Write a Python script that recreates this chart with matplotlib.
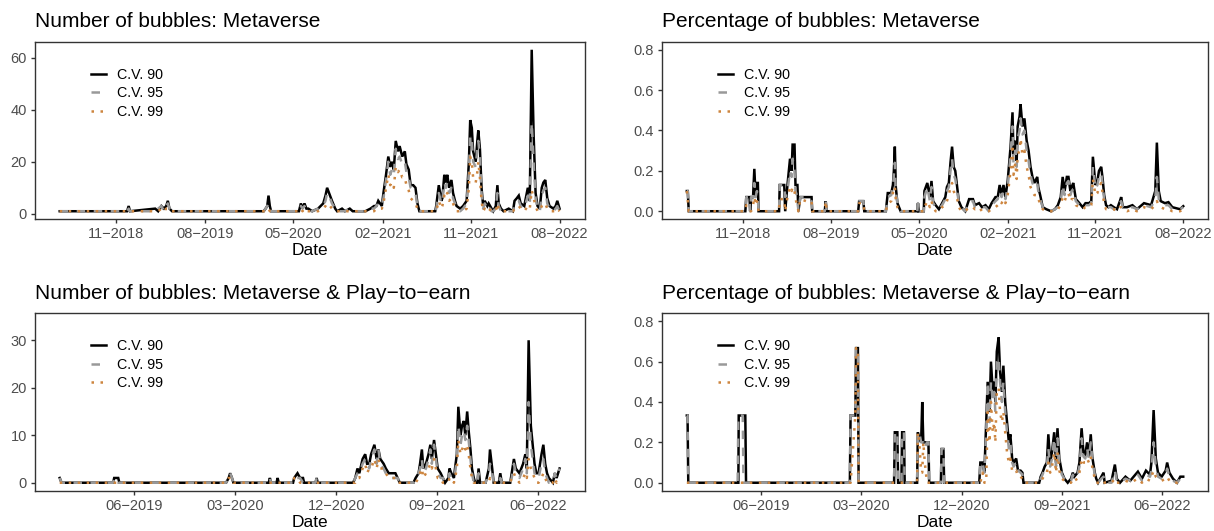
import pandas as pd
import matplotlib
matplotlib.use("Agg")
import matplotlib.pyplot as plt
import matplotlib.dates as mdates

plt.rcParams["font.family"] = ["Liberation Sans", "DejaVu Sans"]

# ---- Metaverse: number of bubbles ----
num_meta_dates = [
    "2018-05-10", "2018-12-04", "2018-12-09", "2018-12-13", "2019-03-01", "2019-03-10",
    "2019-03-20", "2019-03-28", "2019-04-04", "2019-04-09", "2019-04-14", "2019-04-22",
    "2020-01-30", "2020-02-05", "2020-02-10", "2020-02-14", "2020-02-18", "2020-02-22",
    "2020-05-18", "2020-05-24", "2020-05-29", "2020-06-04", "2020-06-10", "2020-06-16",
    "2020-06-28", "2020-07-16", "2020-08-01", "2020-08-08", "2020-08-13", "2020-08-22",
    "2020-08-28", "2020-09-07", "2020-09-13", "2020-09-28", "2020-10-07", "2020-10-22",
    "2020-10-31", "2020-12-09", "2020-12-25", "2021-01-05", "2021-01-12", "2021-01-18",
    "2021-01-29", "2021-02-03", "2021-02-11", "2021-02-18", "2021-02-24", "2021-03-01",
    "2021-03-07", "2021-03-13", "2021-03-20", "2021-03-25", "2021-04-02", "2021-04-10",
    "2021-04-15", "2021-04-22", "2021-04-28", "2021-05-06", "2021-05-13", "2021-05-19",
    "2021-05-25", "2021-07-13", "2021-07-16", "2021-07-24", "2021-08-01", "2021-08-04",
    "2021-08-10", "2021-08-15", "2021-08-19", "2021-08-25", "2021-09-01", "2021-09-06",
    "2021-09-12", "2021-09-17", "2021-09-28", "2021-10-07", "2021-10-18", "2021-10-25",
    "2021-10-29", "2021-11-03", "2021-11-07", "2021-11-15", "2021-11-20", "2021-11-23",
    "2021-11-28", "2021-12-03", "2021-12-08", "2021-12-13", "2021-12-21", "2021-12-25",
    "2022-01-03", "2022-01-08", "2022-01-16", "2022-01-21", "2022-01-25", "2022-02-01",
    "2022-02-09", "2022-02-25", "2022-03-10", "2022-03-15", "2022-03-22", "2022-03-28",
    "2022-04-03", "2022-04-14", "2022-04-25", "2022-05-01", "2022-05-07", "2022-05-13",
    "2022-05-19", "2022-05-25", "2022-06-01", "2022-06-07", "2022-06-12", "2022-06-18",
    "2022-06-24", "2022-07-01", "2022-07-13", "2022-07-20", "2022-07-25", "2022-08-01",
]
num_meta_90 = [
    1, 1, 3, 1, 2, 1, 3, 2, 3, 5, 2, 1,
    1, 2, 3, 7, 3, 1,
    1, 4, 2, 4, 2, 2,
    1, 2, 4, 7, 10, 7,
    5, 2, 1, 2, 1, 2,
    1, 1, 2, 3, 3, 5,
    3, 8, 15, 22, 18, 20,
    17, 28, 24, 26, 22, 24,
    19, 17, 11, 11, 10, 4,
    1, 1, 3, 11, 5, 6,
    15, 12, 15, 10, 13, 8,
    5, 3, 2, 3, 5, 20,
    36, 33, 24, 20, 28, 32,
    25, 10, 3, 5, 3, 4,
    2, 1, 3, 11, 4, 2,
    1, 2, 1, 5, 6, 7,
    4, 3, 10, 5, 63, 30,
    8, 3, 2, 10, 12, 13,
    6, 3, 2, 3, 5, 2,
]
num_meta_95 = [
    1, 1, 2, 1, 1, 2, 3, 1, 3, 4, 2, 1,
    1, 2, 3, 4, 2, 1,
    1, 3, 2, 3, 1, 1,
    1, 2, 3, 5, 8, 6,
    4, 2, 1, 1, 1, 2,
    1, 1, 2, 2, 3, 4,
    3, 6, 13, 20, 15, 17,
    15, 25, 21, 22, 19, 20,
    16, 14, 10, 9, 8, 3,
    1, 1, 2, 8, 4, 5,
    12, 10, 12, 8, 10, 6,
    4, 2, 1, 2, 4, 16,
    30, 28, 20, 18, 25, 28,
    22, 8, 2, 4, 2, 3,
    1, 1, 2, 8, 3, 1,
    1, 1, 1, 4, 5, 5,
    3, 2, 7, 4, 35, 20,
    6, 2, 1, 7, 9, 10,
    4, 2, 1, 2, 3, 1,
]
num_meta_99 = [
    1, 1, 1, 1, 1, 1, 2, 1, 2, 2, 1, 1,
    1, 1, 2, 2, 1, 1,
    1, 2, 1, 2, 1, 1,
    1, 1, 2, 3, 4, 3,
    2, 1, 1, 1, 1, 1,
    1, 1, 1, 1, 2, 2,
    2, 4, 10, 15, 11, 12,
    10, 18, 16, 17, 14, 14,
    11, 9, 6, 5, 4, 2,
    1, 1, 1, 5, 2, 3,
    7, 6, 8, 5, 6, 4,
    2, 1, 1, 1, 2, 10,
    22, 20, 14, 12, 16, 20,
    14, 5, 1, 2, 1, 2,
    1, 1, 1, 4, 2, 1,
    1, 1, 1, 2, 3, 3,
    2, 1, 3, 2, 9, 6,
    3, 1, 1, 3, 4, 4,
    2, 1, 1, 1, 2, 1,
]

# ---- Metaverse: share of bubbles ----
pct_meta_dates = [
    "2018-05-10", "2018-05-13", "2018-05-16", "2018-11-08", "2018-11-11", "2018-11-21",
    "2018-11-23", "2018-11-26", "2018-12-02", "2018-12-06", "2018-12-10", "2018-12-14",
    "2018-12-17", "2018-12-19", "2019-02-21", "2019-02-23", "2019-03-09", "2019-03-12",
    "2019-03-19", "2019-03-27", "2019-04-01", "2019-04-04", "2019-04-10", "2019-04-13",
    "2019-04-19", "2019-04-22", "2019-04-28", "2019-05-16", "2019-06-02", "2019-06-04",
    "2019-07-13", "2019-07-16", "2019-07-19", "2019-10-25", "2019-10-28", "2019-11-10",
    "2019-11-13", "2020-01-19", "2020-01-25", "2020-02-05", "2020-02-10", "2020-02-13",
    "2020-02-16", "2020-02-19", "2020-02-24", "2020-03-05", "2020-04-26", "2020-04-28",
    "2020-04-30", "2020-05-16", "2020-05-18", "2020-05-27", "2020-06-04", "2020-06-09",
    "2020-06-14", "2020-06-22", "2020-07-02", "2020-07-12", "2020-07-22", "2020-07-27",
    "2020-08-02", "2020-08-07", "2020-08-12", "2020-08-17", "2020-08-22", "2020-08-28",
    "2020-09-02", "2020-09-10", "2020-09-22", "2020-10-04", "2020-10-16", "2020-10-22",
    "2020-11-04", "2020-11-13", "2020-11-24", "2020-12-04", "2020-12-13", "2020-12-25",
    "2021-01-01", "2021-01-07", "2021-01-13", "2021-01-19", "2021-01-25", "2021-02-01",
    "2021-02-10", "2021-02-16", "2021-02-19", "2021-02-25", "2021-03-01", "2021-03-04",
    "2021-03-10", "2021-03-13", "2021-03-19", "2021-03-25", "2021-04-01", "2021-04-07",
    "2021-04-13", "2021-04-19", "2021-04-25", "2021-05-04", "2021-05-07", "2021-05-13",
    "2021-05-21", "2021-06-01", "2021-06-16", "2021-06-28", "2021-07-07", "2021-07-16",
    "2021-07-22", "2021-07-28", "2021-08-04", "2021-08-09", "2021-08-15", "2021-08-19",
    "2021-08-24", "2021-09-01", "2021-09-12", "2021-09-22", "2021-10-01", "2021-10-12",
    "2021-10-19", "2021-10-24", "2021-10-28", "2021-11-01", "2021-11-07", "2021-11-12",
    "2021-11-19", "2021-11-24", "2021-11-28", "2021-12-04", "2021-12-11", "2021-12-19",
    "2021-12-28", "2022-01-07", "2022-01-16", "2022-01-20", "2022-01-25", "2022-02-07",
    "2022-02-24", "2022-03-10", "2022-04-01", "2022-04-23", "2022-05-06", "2022-05-11",
    "2022-05-17", "2022-05-23", "2022-06-05", "2022-06-16", "2022-06-28", "2022-07-10",
    "2022-07-22", "2022-08-01",
]
pct_meta_90 = [
    0.10, 0.10, 0.0, 0.0, 0.07, 0.07, 0.0, 0.07, 0.07, 0.21, 0.07, 0.14,
    0.14, 0.0, 0.0, 0.13, 0.13, 0.0, 0.13, 0.26, 0.20, 0.33, 0.33, 0.13,
    0.13, 0.0, 0.07, 0.07, 0.07, 0.0, 0.0, 0.05, 0.0, 0.0, 0.05, 0.05,
    0.0, 0.0, 0.09, 0.09, 0.13, 0.20, 0.32, 0.12, 0.04, 0.0, 0.0, 0.04,
    0.0, 0.0, 0.10, 0.14, 0.07, 0.15, 0.05, 0.03, 0.01, 0.04, 0.07, 0.12,
    0.14, 0.24, 0.32, 0.22, 0.20, 0.12, 0.05, 0.02, 0.0, 0.06, 0.06, 0.03,
    0.04, 0.02, 0.03, 0.01, 0.04, 0.07, 0.07, 0.13, 0.08, 0.13, 0.07, 0.15,
    0.32, 0.49, 0.28, 0.35, 0.25, 0.42, 0.47, 0.53, 0.42, 0.46, 0.35, 0.30,
    0.22, 0.17, 0.14, 0.17, 0.12, 0.08, 0.02, 0.01, 0.0, 0.01, 0.03, 0.07,
    0.17, 0.10, 0.17, 0.17, 0.10, 0.12, 0.14, 0.06, 0.04, 0.02, 0.04, 0.04,
    0.05, 0.27, 0.20, 0.13, 0.15, 0.20, 0.22, 0.15, 0.08, 0.03, 0.02, 0.03,
    0.02, 0.01, 0.05, 0.07, 0.02, 0.02, 0.03, 0.01, 0.04, 0.03, 0.10, 0.34,
    0.10, 0.05, 0.04, 0.045, 0.02, 0.015, 0.01, 0.025,
]
pct_meta_95 = [
    0.10, 0.10, 0.0, 0.0, 0.07, 0.07, 0.0, 0.07, 0.07, 0.14, 0.07, 0.10,
    0.07, 0.0, 0.0, 0.13, 0.13, 0.07, 0.10, 0.20, 0.17, 0.26, 0.20, 0.10,
    0.07, 0.0, 0.07, 0.07, 0.05, 0.0, 0.0, 0.05, 0.0, 0.0, 0.05, 0.05,
    0.0, 0.0, 0.07, 0.08, 0.12, 0.18, 0.24, 0.10, 0.04, 0.0, 0.0, 0.04,
    0.0, 0.0, 0.07, 0.12, 0.05, 0.12, 0.04, 0.02, 0.01, 0.03, 0.06, 0.10,
    0.12, 0.20, 0.26, 0.18, 0.16, 0.10, 0.04, 0.02, 0.0, 0.05, 0.05, 0.02,
    0.03, 0.02, 0.02, 0.0, 0.03, 0.05, 0.06, 0.10, 0.07, 0.10, 0.06, 0.12,
    0.28, 0.42, 0.24, 0.30, 0.22, 0.36, 0.40, 0.46, 0.38, 0.40, 0.30, 0.25,
    0.18, 0.14, 0.12, 0.14, 0.10, 0.06, 0.02, 0.01, 0.0, 0.01, 0.02, 0.05,
    0.13, 0.08, 0.14, 0.15, 0.08, 0.10, 0.11, 0.05, 0.03, 0.02, 0.03, 0.03,
    0.04, 0.22, 0.17, 0.11, 0.13, 0.17, 0.19, 0.12, 0.06, 0.02, 0.02, 0.02,
    0.01, 0.01, 0.04, 0.05, 0.02, 0.01, 0.02, 0.01, 0.03, 0.02, 0.06, 0.17,
    0.06, 0.04, 0.03, 0.03, 0.01, 0.01, 0.01, 0.02,
]
pct_meta_99 = [
    0.10, 0.05, 0.0, 0.0, 0.03, 0.0, 0.0, 0.0, 0.03, 0.07, 0.03, 0.05,
    0.03, 0.0, 0.0, 0.06, 0.06, 0.0, 0.07, 0.12, 0.10, 0.12, 0.10, 0.06,
    0.03, 0.0, 0.06, 0.05, 0.05, 0.0, 0.0, 0.05, 0.0, 0.0, 0.04, 0.04,
    0.0, 0.0, 0.04, 0.05, 0.09, 0.12, 0.12, 0.06, 0.02, 0.0, 0.0, 0.0,
    0.0, 0.0, 0.02, 0.05, 0.02, 0.05, 0.02, 0.0, 0.0, 0.02, 0.03, 0.05,
    0.08, 0.12, 0.14, 0.10, 0.08, 0.06, 0.02, 0.0, 0.0, 0.02, 0.02, 0.01,
    0.02, 0.0, 0.0, 0.0, 0.01, 0.02, 0.03, 0.05, 0.04, 0.06, 0.04, 0.08,
    0.20, 0.33, 0.18, 0.24, 0.16, 0.28, 0.30, 0.36, 0.28, 0.30, 0.22, 0.18,
    0.12, 0.10, 0.08, 0.08, 0.06, 0.04, 0.01, 0.0, 0.0, 0.0, 0.01, 0.03,
    0.07, 0.05, 0.08, 0.09, 0.05, 0.06, 0.06, 0.03, 0.02, 0.01, 0.02, 0.02,
    0.03, 0.16, 0.12, 0.08, 0.09, 0.12, 0.14, 0.08, 0.04, 0.01, 0.01, 0.01,
    0.01, 0.0, 0.02, 0.02, 0.01, 0.0, 0.01, 0.0, 0.02, 0.01, 0.03, 0.05,
    0.03, 0.02, 0.01, 0.01, 0.0, 0.0, 0.0, 0.01,
]

# ---- Metaverse & Play-to-earn: number of bubbles ----
num_p2e_dates = [
    "2018-11-10", "2018-11-15", "2019-04-04", "2019-04-07", "2019-04-12", "2019-04-18",
    "2019-04-21", "2020-02-05", "2020-02-12", "2020-02-16", "2020-02-21", "2020-02-25",
    "2020-05-31", "2020-06-03", "2020-06-06", "2020-06-21", "2020-06-24", "2020-06-27",
    "2020-08-05", "2020-08-08", "2020-08-17", "2020-08-24", "2020-09-01", "2020-09-04",
    "2020-10-05", "2020-10-08", "2020-10-11", "2021-01-15", "2021-01-21", "2021-01-27",
    "2021-02-01", "2021-02-10", "2021-02-17", "2021-02-22", "2021-02-28", "2021-03-05",
    "2021-03-14", "2021-03-20", "2021-03-25", "2021-03-30", "2021-04-08", "2021-04-14",
    "2021-04-22", "2021-05-01", "2021-05-10", "2021-05-16", "2021-05-22", "2021-06-28",
    "2021-07-04", "2021-07-12", "2021-07-16", "2021-07-21", "2021-07-25", "2021-08-01",
    "2021-08-08", "2021-08-13", "2021-08-17", "2021-08-23", "2021-08-28", "2021-09-02",
    "2021-09-10", "2021-09-16", "2021-09-22", "2021-10-01", "2021-10-04", "2021-10-09",
    "2021-10-16", "2021-10-19", "2021-10-24", "2021-10-28", "2021-11-03", "2021-11-07",
    "2021-11-12", "2021-11-16", "2021-11-21", "2021-11-25", "2021-11-30", "2021-12-04",
    "2021-12-09", "2021-12-13", "2021-12-19", "2021-12-22", "2021-12-26", "2022-01-10",
    "2022-01-19", "2022-01-22", "2022-01-28", "2022-02-01", "2022-02-15", "2022-02-19",
    "2022-02-23", "2022-03-18", "2022-03-22", "2022-03-28", "2022-04-02", "2022-04-12",
    "2022-04-22", "2022-04-28", "2022-05-02", "2022-05-07", "2022-05-13", "2022-05-18",
    "2022-05-23", "2022-05-28", "2022-06-03", "2022-06-11", "2022-06-16", "2022-06-21",
    "2022-06-26", "2022-07-01", "2022-07-12", "2022-07-17", "2022-07-22", "2022-07-30",
]
num_p2e_90 = [
    1, 0, 0, 1, 1, 1, 0, 0, 1, 2, 1, 0,
    0, 1, 0, 0, 1, 0, 0, 1, 2, 1, 1, 0,
    0, 1, 0, 0, 1, 3, 2, 5, 6, 4, 4, 6,
    8, 5, 7, 5, 4, 3, 2, 2, 2, 1, 0, 0,
    1, 2, 4, 7, 3, 4, 6, 8, 5, 9, 6, 3,
    2, 1, 0, 1, 3, 2, 1, 3, 6, 16, 10, 12,
    13, 10, 15, 11, 7, 3, 1, 0, 0, 3, 0, 0,
    3, 7, 3, 0, 0, 2, 0, 0, 2, 5, 3, 2,
    4, 6, 3, 30, 12, 8, 4, 2, 2, 6, 8, 4,
    2, 1, 0, 2, 1, 3,
]
num_p2e_95 = [
    1, 0, 0, 1, 1, 0, 0, 0, 1, 2, 1, 0,
    0, 1, 0, 0, 0, 0, 0, 1, 1, 1, 0, 0,
    0, 1, 0, 0, 1, 2, 2, 4, 5, 4, 3, 5,
    7, 4, 7, 4, 3, 2, 1, 1, 1, 1, 0, 0,
    1, 2, 3, 5, 2, 3, 5, 7, 4, 8, 5, 2,
    1, 1, 0, 1, 2, 1, 1, 2, 5, 12, 8, 10,
    11, 9, 12, 9, 5, 2, 0, 0, 0, 2, 0, 0,
    2, 4, 2, 0, 0, 1, 0, 0, 1, 4, 2, 1,
    3, 5, 2, 17, 8, 5, 2, 1, 1, 4, 5, 2,
    1, 0, 0, 2, 1, 3,
]
num_p2e_99 = [
    0, 0, 0, 0, 0, 0, 0, 0, 1, 1, 1, 0,
    0, 0, 0, 0, 0, 0, 0, 1, 1, 0, 0, 0,
    0, 0, 0, 0, 0, 1, 1, 3, 4, 2, 3, 3,
    5, 3, 5, 3, 3, 2, 1, 1, 1, 0, 0, 0,
    0, 1, 2, 3, 1, 2, 3, 4, 3, 5, 3, 1,
    1, 0, 0, 0, 1, 1, 0, 1, 3, 9, 6, 7,
    8, 7, 8, 6, 3, 1, 0, 0, 0, 0, 0, 0,
    0, 1, 0, 0, 0, 0, 0, 0, 1, 2, 1, 0,
    1, 2, 1, 5, 3, 2, 1, 0, 0, 1, 2, 1,
    0, 0, 0, 1, 0, 1,
]

# ---- Metaverse & Play-to-earn: share of bubbles ----
pct_p2e_dates = [
    "2018-11-10", "2018-11-12", "2018-11-14", "2019-03-29", "2019-03-31", "2019-04-01",
    "2019-04-12", "2019-04-14", "2019-04-19", "2019-04-21", "2020-01-30", "2020-02-01",
    "2020-02-14", "2020-02-16", "2020-02-21", "2020-02-23", "2020-05-30", "2020-06-01",
    "2020-06-08", "2020-06-10", "2020-06-19", "2020-06-21", "2020-06-26", "2020-06-28",
    "2020-08-01", "2020-08-03", "2020-08-07", "2020-08-12", "2020-08-15", "2020-08-18",
    "2020-08-22", "2020-08-28", "2020-09-01", "2020-09-03", "2020-10-05", "2020-10-07",
    "2020-10-12", "2020-10-14", "2021-01-18", "2021-01-21", "2021-01-27", "2021-02-01",
    "2021-02-06", "2021-02-10", "2021-02-15", "2021-02-19", "2021-02-24", "2021-02-28",
    "2021-03-03", "2021-03-07", "2021-03-12", "2021-03-16", "2021-03-21", "2021-03-25",
    "2021-03-30", "2021-04-04", "2021-04-09", "2021-04-13", "2021-04-18", "2021-04-22",
    "2021-04-29", "2021-05-04", "2021-05-11", "2021-05-16", "2021-05-19", "2021-07-01",
    "2021-07-05", "2021-07-10", "2021-07-16", "2021-07-22", "2021-07-26", "2021-07-31",
    "2021-08-05", "2021-08-11", "2021-08-16", "2021-08-20", "2021-08-25", "2021-09-01",
    "2021-09-08", "2021-09-17", "2021-09-26", "2021-10-01", "2021-10-05", "2021-10-14",
    "2021-10-19", "2021-10-25", "2021-10-30", "2021-11-04", "2021-11-09", "2021-11-14",
    "2021-11-19", "2021-11-23", "2021-11-30", "2021-12-04", "2021-12-09", "2021-12-18",
    "2021-12-24", "2021-12-27", "2022-01-15", "2022-01-24", "2022-01-29", "2022-02-07",
    "2022-02-22", "2022-03-07", "2022-03-28", "2022-04-08", "2022-04-19", "2022-04-30",
    "2022-05-04", "2022-05-10", "2022-05-16", "2022-05-22", "2022-06-01", "2022-06-12",
    "2022-06-16", "2022-06-22", "2022-07-02", "2022-07-13", "2022-07-22", "2022-07-30",
]
pct_p2e_90 = [
    0.333, 0.333, 0.0, 0.0, 0.0, 0.333, 0.333, 0.333, 0.333, 0.0, 0.0, 0.333,
    0.333, 0.667, 0.667, 0.0, 0.0, 0.25, 0.25, 0.0, 0.0, 0.25, 0.25, 0.0,
    0.0, 0.25, 0.22, 0.20, 0.40, 0.20, 0.20, 0.20, 0.20, 0.0, 0.0, 0.167,
    0.167, 0.0, 0.0, 0.10, 0.10, 0.05, 0.30, 0.50, 0.35, 0.60, 0.45, 0.50,
    0.40, 0.65, 0.72, 0.55, 0.45, 0.58, 0.40, 0.30, 0.20, 0.24, 0.12, 0.10,
    0.12, 0.06, 0.06, 0.05, 0.0, 0.0, 0.03, 0.05, 0.08, 0.10, 0.24, 0.10,
    0.15, 0.25, 0.10, 0.27, 0.12, 0.05, 0.02, 0.0, 0.02, 0.05, 0.03, 0.05,
    0.10, 0.27, 0.15, 0.14, 0.20, 0.13, 0.24, 0.13, 0.05, 0.02, 0.0, 0.03,
    0.05, 0.0, 0.01, 0.09, 0.02, 0.0, 0.03, 0.01, 0.055, 0.02, 0.06, 0.04,
    0.10, 0.36, 0.12, 0.05, 0.03, 0.06, 0.10, 0.05, 0.02, 0.0, 0.03, 0.03,
]
pct_p2e_95 = [
    0.333, 0.333, 0.0, 0.0, 0.333, 0.333, 0.333, 0.0, 0.0, 0.0, 0.0, 0.333,
    0.333, 0.667, 0.667, 0.0, 0.0, 0.25, 0.25, 0.0, 0.0, 0.25, 0.25, 0.0,
    0.0, 0.25, 0.25, 0.20, 0.20, 0.20, 0.17, 0.20, 0.20, 0.0, 0.0, 0.167,
    0.167, 0.0, 0.0, 0.10, 0.10, 0.05, 0.25, 0.50, 0.30, 0.50, 0.40, 0.45,
    0.35, 0.60, 0.62, 0.50, 0.40, 0.50, 0.35, 0.25, 0.17, 0.20, 0.10, 0.08,
    0.10, 0.06, 0.05, 0.04, 0.0, 0.0, 0.02, 0.04, 0.07, 0.08, 0.17, 0.08,
    0.12, 0.22, 0.08, 0.22, 0.10, 0.04, 0.02, 0.0, 0.01, 0.04, 0.02, 0.04,
    0.08, 0.22, 0.13, 0.12, 0.17, 0.12, 0.20, 0.12, 0.04, 0.01, 0.0, 0.02,
    0.03, 0.0, 0.0, 0.06, 0.01, 0.0, 0.02, 0.01, 0.04, 0.01, 0.04, 0.03,
    0.06, 0.20, 0.08, 0.03, 0.02, 0.04, 0.07, 0.03, 0.01, 0.0, 0.02, 0.02,
]
pct_p2e_99 = [
    0.0, 0.0, 0.0, 0.0, 0.0, 0.0, 0.0, 0.0, 0.0, 0.0, 0.0, 0.0,
    0.333, 0.667, 0.667, 0.0, 0.0, 0.0, 0.0, 0.0, 0.0, 0.0, 0.0, 0.0,
    0.0, 0.25, 0.20, 0.05, 0.05, 0.20, 0.10, 0.0, 0.0, 0.0, 0.0, 0.0,
    0.0, 0.0, 0.0, 0.0, 0.05, 0.0, 0.0, 0.35, 0.20, 0.40, 0.25, 0.30,
    0.20, 0.45, 0.47, 0.35, 0.30, 0.35, 0.25, 0.15, 0.10, 0.12, 0.06, 0.05,
    0.06, 0.03, 0.03, 0.02, 0.0, 0.0, 0.01, 0.02, 0.04, 0.05, 0.10, 0.05,
    0.08, 0.15, 0.05, 0.15, 0.06, 0.02, 0.01, 0.0, 0.0, 0.02, 0.01, 0.02,
    0.05, 0.12, 0.10, 0.10, 0.12, 0.10, 0.13, 0.08, 0.02, 0.0, 0.0, 0.0,
    0.01, 0.0, 0.0, 0.02, 0.0, 0.0, 0.01, 0.0, 0.02, 0.0, 0.02, 0.01,
    0.03, 0.06, 0.03, 0.02, 0.01, 0.02, 0.03, 0.01, 0.0, 0.0, 0.01, 0.01,
]

ticks_meta = ["2018-11-01", "2019-08-01", "2020-05-01", "2021-02-01", "2021-11-01", "2022-08-01"]
ticks_p2e = ["2019-06-01", "2020-03-01", "2020-12-01", "2021-09-01", "2022-06-01"]

LW = 1.8
GREY = "#999999"
ORANGE = "#CD853F"
DARK = "#333333"


def drawPanel(ax, dates, v90, v95, v99, title, ticks, ylim, yticks, yfmt):
    x = pd.to_datetime(dates)
    ax.plot(x, v90, color="black", lw=LW, solid_joinstyle="miter", label="C.V. 90")
    ax.plot(x, v95, color=GREY, lw=LW, linestyle=(0, (3.4, 3.4)), label="C.V. 95")
    ax.plot(x, v99, color=ORANGE, lw=LW, linestyle=(0, (1, 2.6)), label="C.V. 99")

    # ggplot style 5% expansion on the date range
    span = x[-1] - x[0]
    ax.set_xlim(x[0] - 0.05 * span, x[-1] + 0.05 * span)
    ax.set_ylim(*ylim)

    ax.set_xticks(pd.to_datetime(ticks))
    ax.xaxis.set_major_formatter(mdates.DateFormatter("%m\u2212%Y"))
    ax.set_yticks(yticks)
    ax.set_yticklabels([yfmt % v for v in yticks])

    ax.tick_params(axis="both", length=3.2, width=1.0, color=DARK, pad=2.5,
                   labelsize=10.5, labelcolor="#4D4D4D")
    for sp in ax.spines.values():
        sp.set_color(DARK)
        sp.set_linewidth(1.0)

    ax.set_title(title, loc="left", fontsize=15, pad=10.5)
    ax.set_xlabel("Date", fontsize=12.5, labelpad=1.5)

    ax.legend(loc="upper left", bbox_to_anchor=(0.103, 0.852), frameon=False,
              fontsize=10.3, handlelength=1.0, handletextpad=0.8, labelspacing=0.3,
              borderpad=0, borderaxespad=0)


fig = plt.figure(figsize=(12.14, 5.31), dpi=100)

ax1 = fig.add_axes([0.0286, 0.587, 0.4529, 0.3345])
ax2 = fig.add_axes([0.5453, 0.587, 0.4498, 0.3345])
ax3 = fig.add_axes([0.0286, 0.0757, 0.4529, 0.3345])
ax4 = fig.add_axes([0.5453, 0.0757, 0.4498, 0.3345])

pct_ticks = [0.0, 0.2, 0.4, 0.6, 0.8]

drawPanel(ax1, num_meta_dates, num_meta_90, num_meta_95, num_meta_99,
          "Number of bubbles: Metaverse", ticks_meta, (-2.1, 66.1), [0, 20, 40, 60], "%d")
drawPanel(ax2, pct_meta_dates, pct_meta_90, pct_meta_95, pct_meta_99,
          "Percentage of bubbles: Metaverse", ticks_meta, (-0.04, 0.84), pct_ticks, "%.1f")
drawPanel(ax3, num_p2e_dates, num_p2e_90, num_p2e_95, num_p2e_99,
          "Number of bubbles: Metaverse & Play\u2212to\u2212earn", ticks_p2e, (-1.7, 35.7),
          [0, 10, 20, 30], "%d")
drawPanel(ax4, pct_p2e_dates, pct_p2e_90, pct_p2e_95, pct_p2e_99,
          "Percentage of bubbles: Metaverse & Play\u2212to\u2212earn", ticks_p2e, (-0.04, 0.84),
          pct_ticks, "%.1f")

fig.savefig("out.png", dpi=100)
